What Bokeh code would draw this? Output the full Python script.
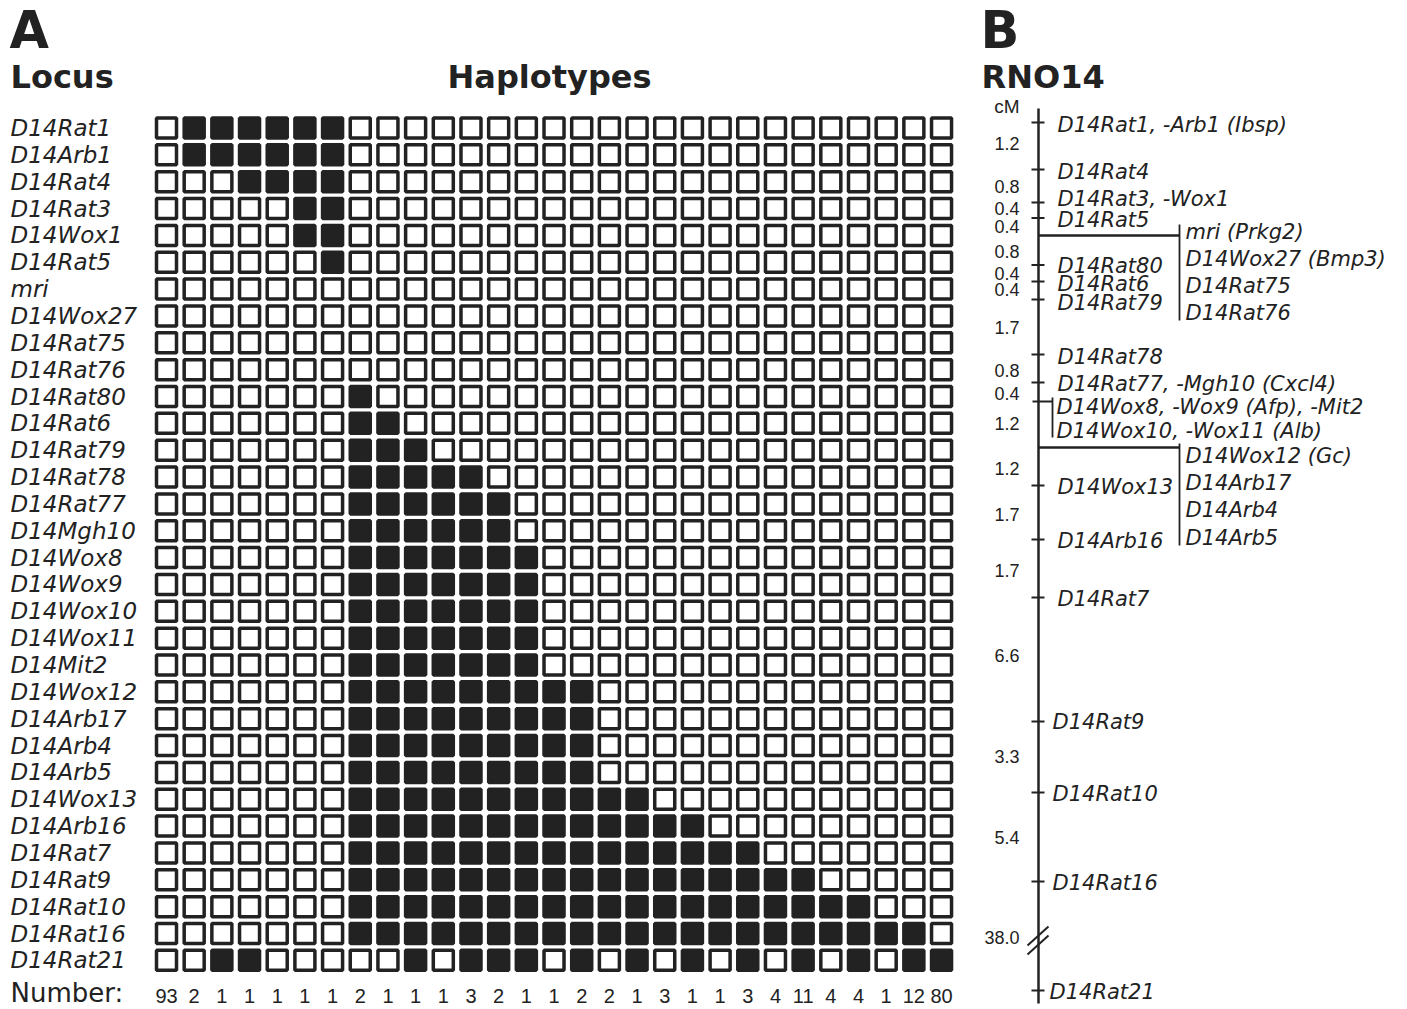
from bokeh.plotting import figure
from bokeh.models import Range1d
from bokeh.layouts import row
from bokeh.embed import file_html
from bokeh.resources import INLINE
from bokeh.core.properties import value

# ---------------- data ----------------
loci = ["D14Rat1", "D14Arb1", "D14Rat4", "D14Rat3", "D14Wox1", "D14Rat5", "mri",
        "D14Wox27", "D14Rat75", "D14Rat76", "D14Rat80", "D14Rat6", "D14Rat79",
        "D14Rat78", "D14Rat77", "D14Mgh10", "D14Wox8", "D14Wox9", "D14Wox10",
        "D14Wox11", "D14Mit2", "D14Wox12", "D14Arb17", "D14Arb4", "D14Arb5",
        "D14Wox13", "D14Arb16", "D14Rat7", "D14Rat9", "D14Rat10", "D14Rat16",
        "D14Rat21"]

# 1 = filled (black) box, 0 = open box; one string per locus, one char per haplotype
haplotypes = [
    "01111110000000000000000000000",  # D14Rat1
    "01111110000000000000000000000",  # D14Arb1
    "00011110000000000000000000000",  # D14Rat4
    "00000110000000000000000000000",  # D14Rat3
    "00000110000000000000000000000",  # D14Wox1
    "00000010000000000000000000000",  # D14Rat5
    "00000000000000000000000000000",  # mri
    "00000000000000000000000000000",  # D14Wox27
    "00000000000000000000000000000",  # D14Rat75
    "00000000000000000000000000000",  # D14Rat76
    "00000001000000000000000000000",  # D14Rat80
    "00000001100000000000000000000",  # D14Rat6
    "00000001110000000000000000000",  # D14Rat79
    "00000001111100000000000000000",  # D14Rat78
    "00000001111110000000000000000",  # D14Rat77
    "00000001111110000000000000000",  # D14Mgh10
    "00000001111111000000000000000",  # D14Wox8
    "00000001111111000000000000000",  # D14Wox9
    "00000001111111000000000000000",  # D14Wox10
    "00000001111111000000000000000",  # D14Wox11
    "00000001111111000000000000000",  # D14Mit2
    "00000001111111110000000000000",  # D14Wox12
    "00000001111111110000000000000",  # D14Arb17
    "00000001111111110000000000000",  # D14Arb4
    "00000001111111110000000000000",  # D14Arb5
    "00000001111111111100000000000",  # D14Wox13
    "00000001111111111111000000000",  # D14Arb16
    "00000001111111111111110000000",  # D14Rat7
    "00000001111111111111111100000",  # D14Rat9
    "00000001111111111111111111000",  # D14Rat10
    "00000001111111111111111111110",  # D14Rat16
    "00110000010111010101010101011",  # D14Rat21
]

numbers = [93, 2, 1, 1, 1, 1, 1, 2, 1, 1, 1, 3, 2, 1, 1, 2, 2, 1, 3, 1, 1, 3, 4, 11,
           4, 4, 1, 12, 80]

# Panel B: genetic map of RNO14 (positions as drawn on the schematic map)
map_markers = ["D14Rat1, -Arb1 (Ibsp)", "D14Rat4", "D14Rat3, -Wox1", "D14Rat5",
               "D14Rat80", "D14Rat6", "D14Rat79", "D14Rat78",
               "D14Rat77, -Mgh10 (Cxcl4)", "D14Wox13", "D14Arb16", "D14Rat7",
               "D14Rat9", "D14Rat10", "D14Rat16", "D14Rat21"]
map_pos = [122, 169, 202, 217.5, 264.5, 281, 299, 354, 382, 485, 539, 597,
           721, 792, 881, 990]
map_label_pos = [124, 171, 198, 219, 265, 283, 302, 356, 383, 486, 540, 598,
                 721, 793, 882, 991]

dist_labels = ["1.2", "0.8", "0.4", "0.4", "0.8", "0.4", "0.4", "1.7", "0.8",
               "0.4", "1.2", "1.2", "1.7", "1.7", "6.6", "3.3", "5.4", "38.0"]
dist_pos = [143, 186, 208, 226, 251, 273, 289, 327, 370, 393, 423, 468, 514,
            570, 655, 756, 837, 937]

mri_group = ["mri (Prkg2)", "D14Wox27 (Bmp3)", "D14Rat75", "D14Rat76"]
mri_group_pos = [231, 258, 285, 312]
mri_branch = 235

gc_group = ["D14Wox12 (Gc)", "D14Arb17", "D14Arb4", "D14Arb5"]
gc_group_pos = [455, 482, 509, 537]
gc_branch = 447

afp_group = ["D14Wox8, -Wox9 (Afp), -Mit2", "D14Wox10, -Wox11 (Alb)"]
afp_group_pos = [406, 430]
afp_branch = 401

break_pos = 940

# ---------------- styles ----------------
INK = "#222222"
FONT = "DejaVu Sans"
NUMFONT = "Liberation Sans"

# ---------------- panel A ----------------
W_A, H = 970, 1009
PX_COL, PX_ROW = 27.68, 26.85
xs = -166 / PX_COL
xe = xs + W_A / PX_COL
yt = -127.5 / PX_ROW
yb = yt + H / PX_ROW


def ax(sx):
    return xs + sx / PX_COL


def ay(sy):
    return yt + sy / PX_ROW


pA = figure(width=W_A, height=H, x_range=Range1d(xs, xe), y_range=Range1d(yb, yt),
            output_backend="svg", toolbar_location=None, min_border=0,
            x_axis_location=None, y_axis_location=None, outline_line_color=None)
pA.grid.visible = False
pA.background_fill_color = "white"
pA.border_fill_color = "white"

ex, ey, fx, fy = [], [], [], []
for i, h in enumerate(haplotypes):
    for j, c in enumerate(h):
        if c == "1":
            fx.append(j); fy.append(i)
        else:
            ex.append(j); ey.append(i)

pA.rect(x=ex, y=ey, width=20, height=20, width_units="screen", height_units="screen",
        fill_color="white", line_color=INK, line_width=3.5)
pA.rect(x=fx, y=fy, width=20, height=20, width_units="screen", height_units="screen",
        fill_color=INK, line_color=INK, line_width=3.5)

pA.text(x=[ax(10)] * len(loci), y=list(range(len(loci))), text=loci,
        text_font=value(FONT), text_font_style="italic", text_font_size="23px",
        text_color=INK, text_align="left", text_baseline="middle")

pA.text(x=list(range(len(numbers))), y=[ay(995)] * len(numbers),
        text=[str(n) for n in numbers], text_font=value(NUMFONT),
        text_font_size="20px", text_color=INK, text_align="center",
        text_baseline="middle")
pA.text(x=[ax(10)], y=[ay(992)], text=["Number:"], text_font=value(FONT),
        text_font_size="26px", text_color=INK, text_align="left",
        text_baseline="middle")

pA.text(x=[ax(9)], y=[ay(30)], text=["A"], text_font=value(FONT),
        text_font_style="bold", text_font_size="51px", text_color=INK,
        text_align="left", text_baseline="middle")
pA.text(x=[ax(10), ax(447)], y=[ay(76), ay(76)], text=["Locus", "Haplotypes"],
        text_font=value(FONT), text_font_style="bold", text_font_size="32px",
        text_color=INK, text_align="left", text_baseline="middle")

# ---------------- panel B ----------------
W_B = 1407 - W_A
pB = figure(width=W_B, height=H, x_range=Range1d(W_A, 1407), y_range=Range1d(H, 0),
            output_backend="svg", toolbar_location=None, min_border=0,
            x_axis_location=None, y_axis_location=None, outline_line_color=None)
pB.grid.visible = False
pB.background_fill_color = "white"
pB.border_fill_color = "white"

MAP_X = 1038
BR_X = 1179
LBL = dict(text_font=value(FONT), text_font_style="italic", text_font_size="21px",
           text_color=INK, text_align="left", text_baseline="middle")

# chromosome line
pB.segment(x0=[MAP_X], y0=[map_pos[0] - 14], x1=[MAP_X], y1=[map_pos[-1] + 13],
           line_color=INK, line_width=2.5)
# marker ticks
pB.segment(x0=[MAP_X - 7] * len(map_pos), y0=map_pos, x1=[MAP_X + 6] * len(map_pos),
           y1=map_pos, line_color=INK, line_width=2)
lab_x = [1057] * 12 + [1052] * 3 + [1049]
pB.text(x=lab_x, y=map_label_pos, text=map_markers, **LBL)

# distances (cM)
pB.text(x=[1019] * len(dist_pos), y=dist_pos, text=dist_labels,
        text_font=value(NUMFONT), text_font_size="18px", text_color=INK,
        text_align="right", text_baseline="middle")
pB.text(x=[1019], y=[map_pos[0] - 16], text=["cM"], text_font=value(NUMFONT),
        text_font_size="19px", text_color=INK, text_align="right",
        text_baseline="middle")

# branch groups
for grp, gpos, br, top in [(mri_group, mri_group_pos, mri_branch, 224),
                           (gc_group, gc_group_pos, gc_branch, 443)]:
    pB.segment(x0=[MAP_X], y0=[br], x1=[BR_X], y1=[br], line_color=INK, line_width=2.5)
    pB.segment(x0=[BR_X], y0=[top], x1=[BR_X], y1=[gpos[-1] + 8],
               line_color=INK, line_width=1.8)
    pB.text(x=[BR_X + 6] * len(grp), y=gpos, text=grp, **LBL)

pB.segment(x0=[MAP_X - 6], y0=[afp_branch], x1=[MAP_X + 14], y1=[afp_branch],
           line_color=INK, line_width=2)
pB.segment(x0=[MAP_X + 14], y0=[afp_branch - 4], x1=[MAP_X + 14],
           y1=[afp_group_pos[-1] + 7], line_color=INK, line_width=1.8)
pB.text(x=[MAP_X + 18] * len(afp_group), y=afp_group_pos, text=afp_group, **LBL)

# break symbol //
pB.segment(x0=[MAP_X - 11, MAP_X - 11], y0=[break_pos + 5, break_pos + 14],
           x1=[MAP_X + 10, MAP_X + 10], y1=[break_pos - 14, break_pos - 5],
           line_color=INK, line_width=2)

pB.text(x=[980], y=[30], text=["B"], text_font=value(FONT), text_font_style="bold",
        text_font_size="51px", text_color=INK, text_align="left", text_baseline="middle")
pB.text(x=[981], y=[76], text=["RNO14"], text_font=value(FONT), text_font_style="bold",
        text_font_size="32px", text_color=INK, text_align="left", text_baseline="middle")

layout = row(pA, pB)
open("out.html", "w").write(file_html(layout, INLINE))
